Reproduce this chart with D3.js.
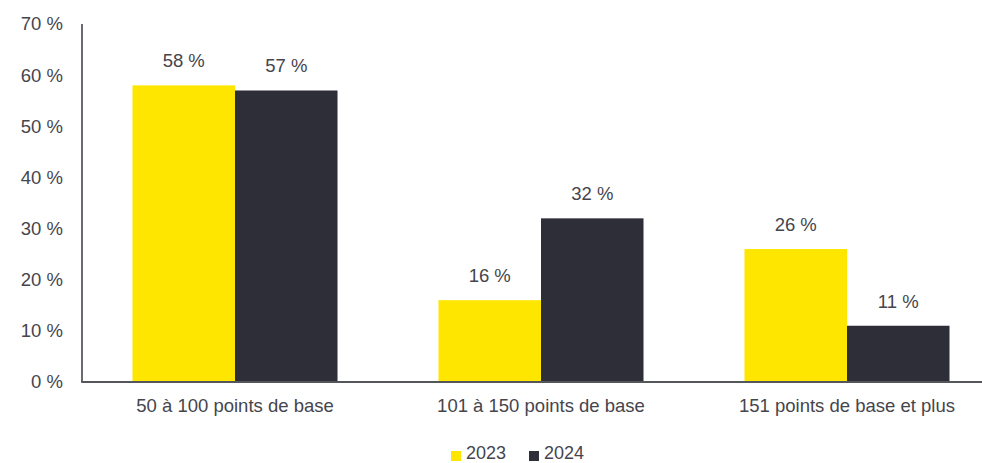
<!DOCTYPE html>
<html>
<head>
<meta charset="utf-8">
<script src="https://cdn.jsdelivr.net/npm/d3@7"></script>
<style>
  html, body { margin: 0; padding: 0; background: #fff; }
  svg { display: block; font-family: "Liberation Sans", Arial, sans-serif; }
</style>
</head>
<body>
<svg id="chart" width="982" height="463"></svg>
<script>
// Share of respondents by spread range, 2023 vs 2024
const categories = ["50 à 100 points de base", "101 à 150 points de base", "151 points de base et plus"];
const seriesNames = ["2023", "2024"];
const values2023 = [58, 16, 26];
const values2024 = [57, 32, 11];
const yTicks = [0, 10, 20, 30, 40, 50, 60, 70];

const colors = { "2023": "#FFE600", "2024": "#2E2E38" };
const textColor = "#45454d";
const fontSize = 18.5;

const svg = d3.select("#chart");
const width = 982;
const plot = { left: 82, right: 1000, top: 24, bottom: 382 };

const rows = categories.map((c, i) => ({
  category: c,
  values: [
    { series: "2023", value: values2023[i] },
    { series: "2024", value: values2024[i] }
  ]
}));

const x0 = d3.scaleBand()
  .domain(categories)
  .range([plot.left, plot.right])
  .paddingInner(0.33)
  .paddingOuter(0.165);

const x1 = d3.scaleBand()
  .domain(seriesNames)
  .range([0, x0.bandwidth()])
  .padding(0);

const y = d3.scaleLinear()
  .domain([0, 70])
  .range([plot.bottom, plot.top]);

// Y axis labels
const yAxis = d3.axisLeft(y)
  .tickValues(yTicks)
  .tickSize(0)
  .tickPadding(19)
  .tickFormat(d => d + " %");

const gy = svg.append("g")
  .attr("transform", `translate(${plot.left},0)`)
  .call(yAxis);
gy.select(".domain").remove();
gy.selectAll("text")
  .attr("fill", textColor)
  .attr("font-size", fontSize)
  .attr("font-family", "Liberation Sans, Arial, sans-serif");

// Bars
const groups = svg.append("g")
  .selectAll("g")
  .data(rows)
  .join("g")
  .attr("transform", d => `translate(${x0(d.category)},0)`);

groups.selectAll("rect")
  .data(d => d.values)
  .join("rect")
  .attr("x", d => x1(d.series))
  .attr("y", d => y(d.value))
  .attr("width", x1.bandwidth())
  .attr("height", d => y(0) - y(d.value))
  .attr("fill", d => colors[d.series]);

// Value labels
groups.selectAll("text")
  .data(d => d.values)
  .join("text")
  .attr("x", d => x1(d.series) + x1.bandwidth() / 2)
  .attr("y", d => y(d.value) - 18)
  .attr("text-anchor", "middle")
  .attr("font-size", fontSize)
  .attr("fill", textColor)
  .text(d => d.value + " %");

// Vertical axis line
svg.append("line")
  .attr("x1", plot.left).attr("x2", plot.left)
  .attr("y1", y(70)).attr("y2", y(0))
  .attr("stroke", "#3a3a42")
  .attr("stroke-width", 1.5);

// Baseline
svg.append("line")
  .attr("x1", plot.left - 0.75).attr("x2", width)
  .attr("y1", y(0)).attr("y2", y(0))
  .attr("stroke", "#55555c")
  .attr("stroke-width", 2);

// Category labels
const xAxis = d3.axisBottom(x0).tickSize(0).tickPadding(17);
const gx = svg.append("g")
  .attr("transform", `translate(0,${plot.bottom})`)
  .call(xAxis);
gx.select(".domain").remove();
gx.selectAll("text")
  .attr("fill", textColor)
  .attr("font-size", fontSize)
  .attr("font-family", "Liberation Sans, Arial, sans-serif");

// Legend
const legendItems = [
  { name: "2023", x: 451 },
  { name: "2024", x: 529 }
];
const legend = svg.append("g");
legendItems.forEach(item => {
  legend.append("rect")
    .attr("x", item.x).attr("y", 451)
    .attr("width", 10).attr("height", 10)
    .attr("fill", colors[item.name]);
  legend.append("text")
    .attr("x", item.x + 15).attr("y", 459)
    .attr("font-size", 18)
    .attr("fill", textColor)
    .text(item.name);
});
</script>
</body>
</html>
